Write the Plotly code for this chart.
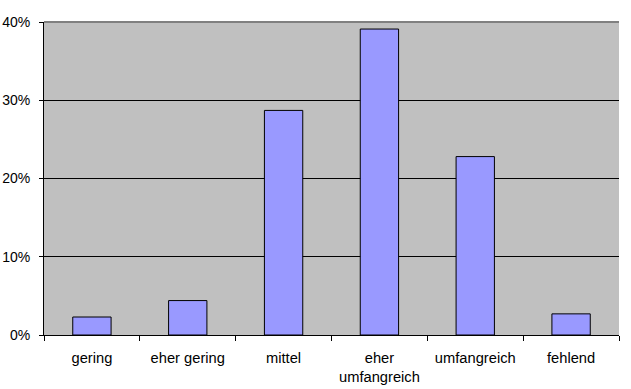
import plotly.graph_objects as go

categories = ["gering", "eher gering", "mittel", "eher<br>umfangreich", "umfangreich", "fehlend"]
values = [2.3, 4.4, 28.7, 39.1, 22.8, 2.7]
y_ticks = [0, 10, 20, 30, 40]
y_tick_labels = ["0%", "10%", "20%", "30%", "40%"]

fig = go.Figure()
fig.add_trace(go.Bar(
    x=categories, y=values,
    marker=dict(color="#9999FF", line=dict(color="black", width=1)),
    hoverinfo="skip",
))

yfont = dict(family="Liberation Sans, Arial, sans-serif", size=14, color="black")
xfont = dict(family="Liberation Sans, Arial, sans-serif", size=14.7, color="black")

fig.update_layout(
    width=631, height=389,
    margin=dict(l=44, r=12, t=22, b=54, autoexpand=False),
    paper_bgcolor="white",
    plot_bgcolor="#C0C0C0",
    bargap=0.6,
    showlegend=False,
    font=yfont,
    xaxis=dict(
        type="category", automargin=False,
        showline=True, linecolor="black", linewidth=1,
        ticks="outside", tickson="boundaries", ticklen=5, tickcolor="black",
        showgrid=False,
        tickfont=xfont, ticklabelstandoff=9,
    ),
    yaxis=dict(
        range=[0, 40], automargin=False,
        tickvals=y_ticks, ticktext=y_tick_labels,
        showline=True, linecolor="black", linewidth=1,
        ticks="outside", ticklen=4, tickcolor="black",
        showgrid=True, gridcolor="black", gridwidth=1,
        zeroline=False,
        tickfont=yfont, ticklabelstandoff=6,
    ),
)
fig.add_shape(type="line", xref="paper", yref="paper", x0=0, x1=1, y0=1, y1=1,
              line=dict(color="#808080", width=2))

fig.write_html("out.html",
               config={"displayModeBar": False, "staticPlot": True},
               post_script="document.body.style.margin='0';document.body.style.overflow='hidden';")
